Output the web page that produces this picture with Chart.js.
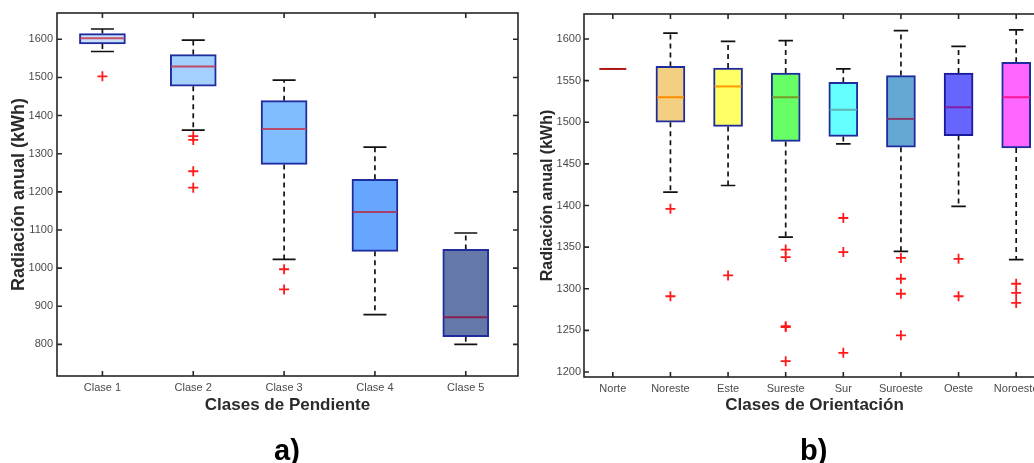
<!DOCTYPE html>
<html><head><meta charset="utf-8">
<script src="https://cdn.jsdelivr.net/npm/chart.js@4/dist/chart.umd.min.js"></script>
<style>
html,body{margin:0;padding:0;background:#fff;overflow:hidden;width:1034px;height:463px;position:relative;}
#wrapA{position:absolute;left:0;top:0;width:530px;height:463px;}
#wrapB{position:absolute;left:530px;top:0;width:530px;height:463px;}
.lab{position:absolute;font-family:"Liberation Sans",Arial,sans-serif;font-weight:bold;font-size:29px;line-height:32px;color:#000;top:434px;}
</style></head><body>
<div id="wrapA"><canvas id="cA" width="530" height="463"></canvas></div>
<div id="wrapB"><canvas id="cB" width="530" height="463"></canvas></div>
<div class="lab" style="left:274px">a)</div>
<div class="lab" style="left:800px">b)</div>
<script>
// ---- a) Clases de Pendiente ----
const slopeClasses = ['Clase 1','Clase 2','Clase 3','Clase 4','Clase 5'];
const slopeUpperWhisker = [1627, 1598, 1493, 1317, 1092];
const slopeQ3 = [1615, 1560, 1439, 1233, 1049];
const slopeMedian = [1603, 1529, 1365, 1147, 871];
const slopeQ1 = [1588, 1477, 1272, 1044, 820];
const slopeLowerWhisker = [1568, 1362, 1023, 878, 800];
const slopeOutliers = [[1503], [1346, 1336, 1254, 1211], [997, 944], [], []];
const slopeYTicks = [800, 900, 1000, 1100, 1200, 1300, 1400, 1500, 1600];

// ---- b) Clases de Orientación ----
const aspectClasses = ['Norte','Noreste','Este','Sureste','Sur','Suroeste','Oeste','Noroeste'];
const aspectUpperWhisker = [1564, 1607, 1597, 1598, 1564, 1610, 1591, 1611];
const aspectQ3 = [1564, 1567, 1565, 1559, 1548, 1556, 1559, 1572];
const aspectMedian = [1564, 1530, 1543, 1530, 1515, 1504, 1518, 1530];
const aspectQ1 = [1564, 1500, 1495, 1477, 1483, 1470, 1484, 1469];
const aspectLowerWhisker = [1564, 1416, 1424, 1362, 1474, 1345, 1399, 1335];
const aspectOutliers = [[], [1396, 1291], [1316], [1347, 1338, 1255, 1254, 1213], [1385, 1344, 1223], [1337, 1312, 1294, 1244], [1336, 1291], [1306, 1295, 1283]];
const aspectYTicks = [1200, 1250, 1300, 1350, 1400, 1450, 1500, 1550, 1600];

// ---- styles ----
const slopeFill = ['#c9e1fb', '#a3d0ff', '#80bdff', '#66a6ff', '#6579a8'];
const slopeMedianColor = ['#c8506a', '#c04a66', '#b84a6a', '#a8406a', '#8a2050'];
const aspectFill = ['rgba(0,0,0,0)', '#f3d081', '#ffff66', '#66ff66', '#66ffff', '#66a8d4', '#6666ff', '#ff66ff'];
const aspectBorder = ['rgba(0,0,0,0)', '#1f2c9e', '#1f2c9e', '#1f2c9e', '#1f2c9e', '#1f2c9e', '#1a1a9a', '#1f2c9e'];
const aspectMedianColor = ['#b01818', '#ff8c00', '#ff9900', '#7a9a28', '#5fb4b4', '#8a3a6a', '#8020a0', '#ff1493'];

Chart.defaults.font.family = '"Liberation Sans", Arial, Helvetica, sans-serif';
Chart.defaults.animation = false;

function makeBoxPlugin(d) {
  return {
    id: 'boxplot',
    beforeDatasetsDraw(chart) {
      const {ctx, scales: {x, y}} = chart;
      ctx.save();
      ctx.strokeStyle = '#111';
      ctx.lineWidth = 1.7;
      for (let i = 0; i < d.median.length; i++) {
        const cx = x.getPixelForValue(i + 1);
        const capHalf = d.boxPx / 4;
        ctx.setLineDash([5, 4]);
        ctx.beginPath();
        ctx.moveTo(cx, y.getPixelForValue(d.q3[i]));
        ctx.lineTo(cx, y.getPixelForValue(d.upper[i]));
        ctx.moveTo(cx, y.getPixelForValue(d.q1[i]));
        ctx.lineTo(cx, y.getPixelForValue(d.lower[i]));
        ctx.stroke();
        ctx.setLineDash([]);
        ctx.beginPath();
        const yu = y.getPixelForValue(d.upper[i]);
        const yl = y.getPixelForValue(d.lower[i]);
        ctx.moveTo(cx - capHalf, yu); ctx.lineTo(cx + capHalf, yu);
        ctx.moveTo(cx - capHalf, yl); ctx.lineTo(cx + capHalf, yl);
        ctx.stroke();
      }
      ctx.restore();
    },
    afterDatasetsDraw(chart) {
      const {ctx, scales: {x, y}} = chart;
      ctx.save();
      ctx.lineWidth = 2;
      for (let i = 0; i < d.median.length; i++) {
        const cx = x.getPixelForValue(i + 1);
        const ym = y.getPixelForValue(d.median[i]);
        ctx.strokeStyle = d.medianColor[i];
        ctx.beginPath();
        ctx.moveTo(cx - d.boxPx / 2 + 1, ym);
        ctx.lineTo(cx + d.boxPx / 2 - 1, ym);
        ctx.stroke();
      }
      ctx.restore();
    },
    afterDraw(chart) {
      const {ctx, chartArea: a, scales: {x, y}} = chart;
      ctx.save();
      ctx.strokeStyle = '#262626';
      ctx.lineWidth = 1.6;
      ctx.strokeRect(a.left, a.top, a.right - a.left, a.bottom - a.top);
      ctx.beginPath();
      const tl = 5;
      x.ticks.forEach(t => {
        const px = x.getPixelForValue(t.value);
        ctx.moveTo(px, a.top); ctx.lineTo(px, a.top + tl);
        ctx.moveTo(px, a.bottom); ctx.lineTo(px, a.bottom - tl);
      });
      y.ticks.forEach(t => {
        const py = y.getPixelForValue(t.value);
        ctx.moveTo(a.left, py); ctx.lineTo(a.left + tl, py);
        ctx.moveTo(a.right, py); ctx.lineTo(a.right - tl, py);
      });
      ctx.stroke();
      ctx.restore();
    }
  };
}

function buildChart(canvasId, o) {
  const boxData = o.labels.map((_, i) => ({x: i + 1, y: [o.q1[i], o.q3[i]]}));
  const outData = [];
  o.outliers.forEach((arr, i) => arr.forEach(v => outData.push({x: i + 1, y: v})));
  return new Chart(document.getElementById(canvasId), {
    type: 'bar',
    data: {
      datasets: [
        {
          type: 'scatter',
          data: outData,
          pointStyle: 'cross',
          pointRadius: 5,
          borderColor: '#ff1a1a',
          backgroundColor: '#ff1a1a',
          borderWidth: 1.8,
          order: 0
        },
        {
          type: 'bar',
          data: boxData,
          backgroundColor: o.fill,
          borderColor: o.border,
          borderWidth: 2,
          borderSkipped: false,
          barThickness: o.boxPx,
          order: 1
        }
      ]
    },
    options: {
      responsive: false,
      animation: false,
      events: [],
      layout: {padding: o.padding},
      plugins: {legend: {display: false}, tooltip: {enabled: false}},
      scales: {
        x: {
          type: 'linear',
          offset: false,
          min: 0.5,
          max: o.xMax,
          grid: {display: false, drawTicks: false, offset: false},
          border: {display: false},
          afterBuildTicks: s => { s.ticks = o.labels.map((_, i) => ({value: i + 1})); },
          afterFit: s => { s.height = o.xAxisHeight; },
          ticks: {
            autoSkip: false, maxRotation: 0, padding: 5,
            color: '#4a4a4a', font: {size: 11},
            callback: v => o.labels[Math.round(v) - 1]
          },
          title: {
            display: true, text: o.xTitle, color: '#2a2a2a',
            font: {size: 17, weight: 'bold'},
            padding: {top: 0, bottom: 47}
          }
        },
        y: {
          type: 'linear',
          min: o.yMin,
          max: o.yMax,
          grid: {display: false, drawTicks: false},
          border: {display: false},
          afterBuildTicks: s => { s.ticks = o.yTicks.map(v => ({value: v})); },
          afterFit: s => { s.width = o.yAxisWidth; },
          ticks: {padding: o.yTickPad, color: '#4a4a4a', font: {size: 11}, callback: v => String(v)},
          title: {
            display: true, text: 'Radiación anual (kWh)', color: '#2a2a2a',
            font: {size: o.yTitleSize, weight: 'bold'},
            padding: {top: o.yTitlePad, bottom: 0}
          }
        }
      }
    },
    plugins: [makeBoxPlugin({
      q1: o.q1, q3: o.q3, median: o.median, upper: o.upper, lower: o.lower,
      medianColor: o.medianColor, boxPx: o.boxPx
    })]
  });
}

buildChart('cA', {
  labels: slopeClasses, q1: slopeQ1, q3: slopeQ3, median: slopeMedian,
  upper: slopeUpperWhisker, lower: slopeLowerWhisker, outliers: slopeOutliers,
  yTicks: slopeYTicks, yMin: 717, yMax: 1669, xMax: 5.575,
  fill: slopeFill, border: '#1f2c9e', medianColor: slopeMedianColor,
  boxPx: 46, padding: {top: 13, right: 12, left: 0, bottom: 0},
  xAxisHeight: 87, yAxisWidth: 57, yTickPad: 4, yTitleSize: 18, yTitlePad: 8,
  xTitle: 'Clases de Pendiente'
});

buildChart('cB', {
  labels: aspectClasses, q1: aspectQ1, q3: aspectQ3, median: aspectMedian,
  upper: aspectUpperWhisker, lower: aspectLowerWhisker, outliers: aspectOutliers,
  yTicks: aspectYTicks, yMin: 1194, yMax: 1630, xMax: 8.5,
  fill: aspectFill, border: aspectBorder, medianColor: aspectMedianColor,
  boxPx: 29, padding: {top: 14, right: 15, left: 0, bottom: 0},
  xAxisHeight: 86, yAxisWidth: 54, yTickPad: 3, yTitleSize: 16, yTitlePad: 8,
  xTitle: 'Clases de Orientación'
});
</script>
</body></html>
